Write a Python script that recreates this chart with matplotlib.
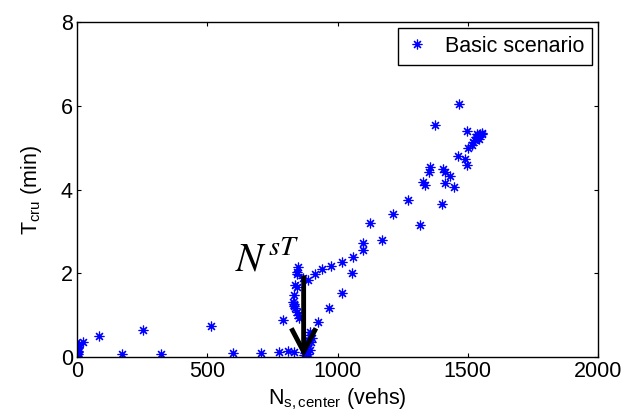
import matplotlib
matplotlib.use("Agg")
import matplotlib.pyplot as plt

plt.rcParams['font.family'] = ['Liberation Sans', 'DejaVu Sans']
plt.rcParams['mathtext.fontset'] = 'custom'
plt.rcParams['mathtext.rm'] = 'Liberation Sans'
plt.rcParams['mathtext.it'] = 'Liberation Sans:italic'
plt.rcParams['mathtext.default'] = 'regular'

# Vehicles in the center region vs. cruising time
n_center = [0, 1, 3, 0, 2, 4, 1, 3, 5, 2, 8, 23, 86, 171, 253, 324, 513, 599, 707,
            775, 811, 833, 790, 850, 846, 844, 837, 843, 833, 830, 832, 834, 837,
            843, 850, 853, 869, 888, 914, 939, 975, 1016, 1058, 1097, 1099, 1125,
            1169, 1214, 1269, 1315, 1330, 1336, 1353, 1356, 1374, 1401, 1404, 1412,
            1412, 1433, 1447, 1468, 1464, 1490, 1496, 1497, 1502, 1515, 1521, 1527,
            1534, 1540, 1547, 1553, 1537, 1532, 1543, 1556, 926, 969, 1016, 1057,
            896, 895, 888, 882, 880, 877, 894, 888, 870, 899, 904, 885]
t_cruise = [0.00, 0.03, 0.06, 0.09, 0.12, 0.15, 0.18, 0.21, 0.25, 0.28, 0.31, 0.37,
            0.50, 0.08, 0.64, 0.08, 0.75, 0.10, 0.10, 0.12, 0.15, 0.13, 0.88, 2.16,
            2.04, 1.98, 1.72, 1.68, 1.48, 1.32, 1.27, 1.22, 1.16, 1.08, 1.00, 0.93,
            1.88, 1.85, 1.99, 2.09, 2.18, 2.26, 2.39, 2.55, 2.72, 3.19, 2.80, 3.42,
            3.74, 3.16, 4.18, 4.10, 4.42, 4.54, 5.53, 3.66, 4.50, 4.42, 4.16, 4.32,
            4.06, 6.05, 4.80, 4.72, 5.40, 4.58, 4.98, 5.06, 5.14, 5.18, 5.22, 5.27,
            5.32, 5.35, 5.32, 5.26, 5.20, 5.33, 0.84, 1.16, 1.53, 2.01, 0.60, 0.52,
            0.41, 0.29, 0.20, 0.10, 0.17, 0.08, 0.05, 0.35, 0.45, 0.00]

x_ticks = [0, 500, 1000, 1500, 2000]
y_ticks = [0, 2, 4, 6, 8]

threshold_n = 870       # N^{sT}
arrow_top = 1.95

fig = plt.figure(figsize=(6.26, 4.19), dpi=100)
ax = fig.add_axes([77 / 626, 1 - 357 / 419, (598 - 77) / 626, (357 - 22) / 419])

ax.plot(n_center, t_cruise, linestyle='none', marker=(8, 2, 0), markersize=7,
        markeredgewidth=0.85, color='#0000ff', label='Basic scenario')

ax.annotate('', xy=(threshold_n, 0), xytext=(threshold_n, arrow_top),
            arrowprops=dict(arrowstyle='->,head_length=0.65,head_width=0.34',
                            lw=3.5, color='black', mutation_scale=26,
                            shrinkA=0, shrinkB=0, joinstyle='miter',
                            capstyle='butt'))
ax.text(606, 2.03, r'$\mathit{N}^{\,\mathit{sT}}$', fontsize=29,
        math_fontfamily='stix', ha='left', va='baseline')

ax.set_xlim(0, 2000)
ax.set_ylim(0, 8)
ax.set_xticks(x_ticks)
ax.set_yticks(y_ticks)
ax.tick_params(direction='in', top=True, right=True, length=3, width=0.8,
               labelsize=15.5, pad=3)
for s in ax.spines.values():
    s.set_linewidth(1.0)

ax.set_xlabel(r'N$_{s,center}$ (vehs)', fontsize=15.5, labelpad=3)
ax.set_ylabel(r'T$_{cru}$ (min)', fontsize=15.5, labelpad=12)

leg = ax.legend(loc='upper right', fontsize=15.5, frameon=True, fancybox=False,
                framealpha=1, edgecolor='black', borderaxespad=0.3,
                handlelength=1.0, handletextpad=0.8, borderpad=0.35)
leg.get_frame().set_linewidth(1.0)

fig.savefig('out.png', dpi=100)
